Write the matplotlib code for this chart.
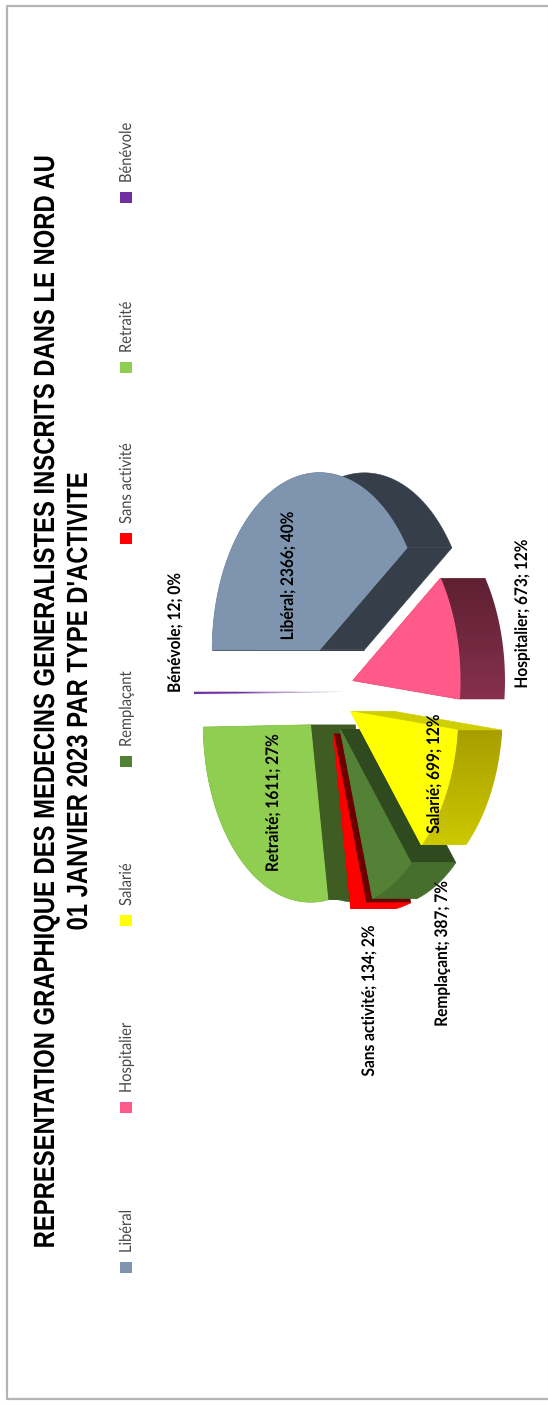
# Doctors by activity type: exploded 3D-style pie on a page turned a quarter turn
import numpy as np
import matplotlib
matplotlib.use('Agg')
import matplotlib.pyplot as plt
from matplotlib.patches import Polygon, Rectangle
from matplotlib.patheffects import AbstractPathEffect
from matplotlib.transforms import Affine2D

categories = ["Libéral", "Hospitalier", "Salarié", "Remplaçant", "Sans activité", "Retraité", "Bénévole"]
values = [2366, 673, 699, 387, 134, 1611, 12]
percents = [40, 12, 12, 7, 2, 27, 0]

top_colors = ["#7F95AF", "#FF5A8A", "#FFFF00", "#538135", "#FF0000", "#8FCE50", "#7030A0"]
wall_colors = ["#363F49", "#5E2032", "#CFCF00", "#2F4A1F", "#6B0000", "#3F5D22", "#B9A6CC"]
outer_top = ["#363F49", "#5E2032", "#A89E00", "#466F2E", "#FF0000", "#3F5D22", "#B9A6CC"]
outer_bottom = ["#363F49", "#86304D", "#CCC800", "#466F2E", "#FF0000", "#3F5D22", "#B9A6CC"]
draw_order = [5, 4, 3, 2, 1, 0, 6]

title_lines = ["REPRESENTATION GRAPHIQUE DES MEDECINS GENERALISTES INSCRITS DANS LE NORD AU",
               "01 JANVIER 2023 PAR TYPE D'ACTIVITE"]

# pie geometry, in pixels of the page
CX, CY = 327.4, 691.5
RX, RY = 107, 177
EXPLODE = 0.247
DEPTH = 45

label_xy = [(288, 576), (522, 614), (434, 774), (442, 954), (369, 1001), (273, 803), (175, 633)]
legend_y = [1267, 1107, 920, 761, 538, 367, 197]

WIDTH, HEIGHT = 548, 1405

fig = plt.figure(figsize=(WIDTH / 100, HEIGHT / 100), dpi=100)
ax = fig.add_axes([0, 0, 1, 1])


class SqueezeY(AbstractPathEffect):
    """Squeezes text along the page height, for the condensed rotated lettering."""

    def __init__(self, factor, anchor):
        super().__init__()
        self.factor = factor
        self.anchor = HEIGHT - anchor  # display pixels count from the bottom

    def draw_path(self, renderer, gc, tpath, affine, rgbFace=None):
        squeeze = Affine2D().translate(0, -self.anchor).scale(1, self.factor).translate(0, self.anchor)
        renderer.draw_path(gc, tpath, affine + squeeze, rgbFace)


def arc(center, t0, t1, n=80):
    # angles run clockwise from the left of the page
    t = np.radians(np.linspace(t0, t1, n))
    return np.column_stack([center[0] - RX * np.cos(t), center[1] - RY * np.sin(t)])


def gradient_fill(points, c0, c1, zorder, seam):
    if c0 == c1:
        ax.add_patch(Polygon(points, closed=True, fc=c0, ec=c0, lw=seam, zorder=zorder))
        return
    poly = Polygon(points, closed=True, fc="none", ec="none", zorder=zorder)
    ax.add_patch(poly)
    y0, y1 = points[:, 1].min(), points[:, 1].max()
    rgb0 = np.array(matplotlib.colors.to_rgb(c0))
    rgb1 = np.array(matplotlib.colors.to_rgb(c1))
    f = np.linspace(0, 1, 64)[:, None, None]
    grad = rgb0[None, None, :] * (1 - f) + rgb1[None, None, :] * f
    x0, x1 = points[:, 0].min(), points[:, 0].max()
    im = ax.imshow(grad, extent=[x0, x1, y1, y0], aspect="auto", zorder=zorder, interpolation="bilinear")
    im.set_clip_path(poly)


total = sum(values)
edges = np.concatenate([[0], np.cumsum(values)]) / total * 360

z = 1
for i in draw_order:
    t0, t1 = edges[i], edges[i + 1]
    mid = np.radians((t0 + t1) / 2)
    center = np.array([CX - EXPLODE * RX * np.cos(mid), CY - EXPLODE * RY * np.sin(mid)])
    rim = arc(center, t0, t1)
    shift = np.array([DEPTH, 0])
    seam = 0.4 if values[i] > 50 else 0

    # hidden end wall, start wall, outer wall, then the top face
    for edge_pt in (rim[-1], rim[0]):
        wall = np.array([center, center + shift, edge_pt + shift, edge_pt])
        ax.add_patch(Polygon(wall, closed=True, fc=wall_colors[i], ec=wall_colors[i], lw=seam, zorder=z))
    gradient_fill(np.vstack([rim, (rim + shift)[::-1]]), outer_top[i], outer_bottom[i], z + 0.1, seam)
    ax.add_patch(Polygon(np.vstack([center, rim]), closed=True, fc=top_colors[i], ec=top_colors[i],
                         lw=seam * 2, zorder=z + 0.2))
    z += 1

# page frame
ax.plot([547.5, 6.5, 6.5, 547.5], [5.5, 5.5, 1399, 1399], color="#B4B4B4", lw=1.6, zorder=20)
ax.plot([547.5, 547.5], [5.5, 1399], color="#E0E0E0", lw=0.8, zorder=20)

# title, two lines read from the bottom up
for line, x in zip(title_lines, [46, 79]):
    ax.text(x, 701.5, line, rotation=90, ha="center", va="center", family="Liberation Sans",
            fontsize=21, fontweight="bold", color="black", zorder=30,
            path_effects=[SqueezeY(0.817, 701.5)])

# data labels
for name, val, pct, (x, y) in zip(categories, values, percents, label_xy):
    ax.text(x, y, f"{name}; {val}; {pct}%", rotation=90, ha="center", va="center", family="Lato",
            fontsize=12.5, fontweight="bold", color="black", zorder=30,
            path_effects=[SqueezeY(0.89, y)])

# legend
for name, col, y in zip(categories, top_colors, legend_y):
    ax.add_patch(Rectangle((120, y - 5.5), 12, 11, fc=col, ec="none", zorder=30))
    ax.text(126, y - 14, name, rotation=90, ha="center", va="bottom", family="Lato",
            fontsize=12, color="#484848", zorder=30,
            path_effects=[SqueezeY(0.88, y - 14)])

ax.set_xlim(0, WIDTH)
ax.set_ylim(HEIGHT, 0)
ax.axis("off")
fig.savefig("out.png", dpi=100, facecolor="white")
plt.close(fig)
